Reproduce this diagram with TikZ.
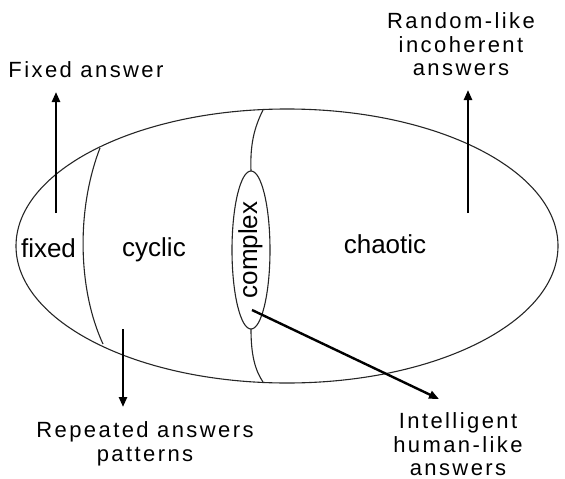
\documentclass[tikz,border=0pt]{standalone}
\usepackage{fontspec}
\setmainfont{Liberation Sans}
\newfontfamily\spacedfont[LetterSpace=11]{Liberation Sans}
\usetikzlibrary{arrows.meta}
\begin{document}
\begin{tikzpicture}[x=1pt,y=-1pt,
  region/.style={line width=1.1pt,draw=black!85},
  bigarrow/.style={line width=2.4pt,-{Triangle[length=10pt,width=8pt]}},
  inlabel/.style={inner sep=0pt,font=\fontsize{26}{30}\selectfont},
  outlabel/.style={inner sep=0pt,align=center,font=\spacedfont\fontsize{22}{23.5}\selectfont}]
\useasboundingbox (0,0) rectangle (565,479);
% main ellipse
\draw[region] (287,246) ellipse [x radius=271, y radius=137];
% boundaries
\draw[region] (100,148) .. controls (76,210) and (78,290) .. (103,344);
\draw[region] (263,110) .. controls (254,128) and (250,145) .. (251,171);
\draw[region] (251,329) .. controls (251,355) and (255,370) .. (263,382);
\draw[region] (251,250) ellipse [x radius=19, y radius=79];
% inside labels
\node[inlabel,anchor=base] (fixedtxt) at (48.5,257) {fixed};
\node[inlabel,anchor=base] (cyclictxt) at (154,256) {cyclic};
\node[inlabel,anchor=base] (chaotictxt) at (385,253) {chaotic};
\node[inlabel,anchor=base,rotate=90] (complextxt) at (257,250) {complex};
% outside labels
\node[outlabel,anchor=base] (fixlbl) at (86,77) {Fixed answer};
\node[outlabel,anchor=north] (randlbl) at (461,12.5) {Random-like\\incoherent\\answers};
\node[outlabel,anchor=north] (replbl) at (145,421.5) {Repeated answers\\patterns};
\node[outlabel,anchor=north] (intlbl) at (458,412.5) {Intelligent\\human-like\\answers};
% arrow ends
\coordinate (fixstart) at (56,213);
\coordinate (fixtip) at (56,92);
\coordinate (randstart) at (468,213);
\coordinate (randtip) at (468,90);
\coordinate (repstart) at (123,329);
\coordinate (reptip) at (123,407);
\coordinate (intstart) at (252,310);
\coordinate (inttip) at (439,399);
\draw[bigarrow] (fixstart) -- (fixtip);
\draw[bigarrow] (randstart) -- (randtip);
\draw[bigarrow] (repstart) -- (reptip);
\draw[bigarrow] (intstart) -- (inttip);
\end{tikzpicture}
\end{document}
